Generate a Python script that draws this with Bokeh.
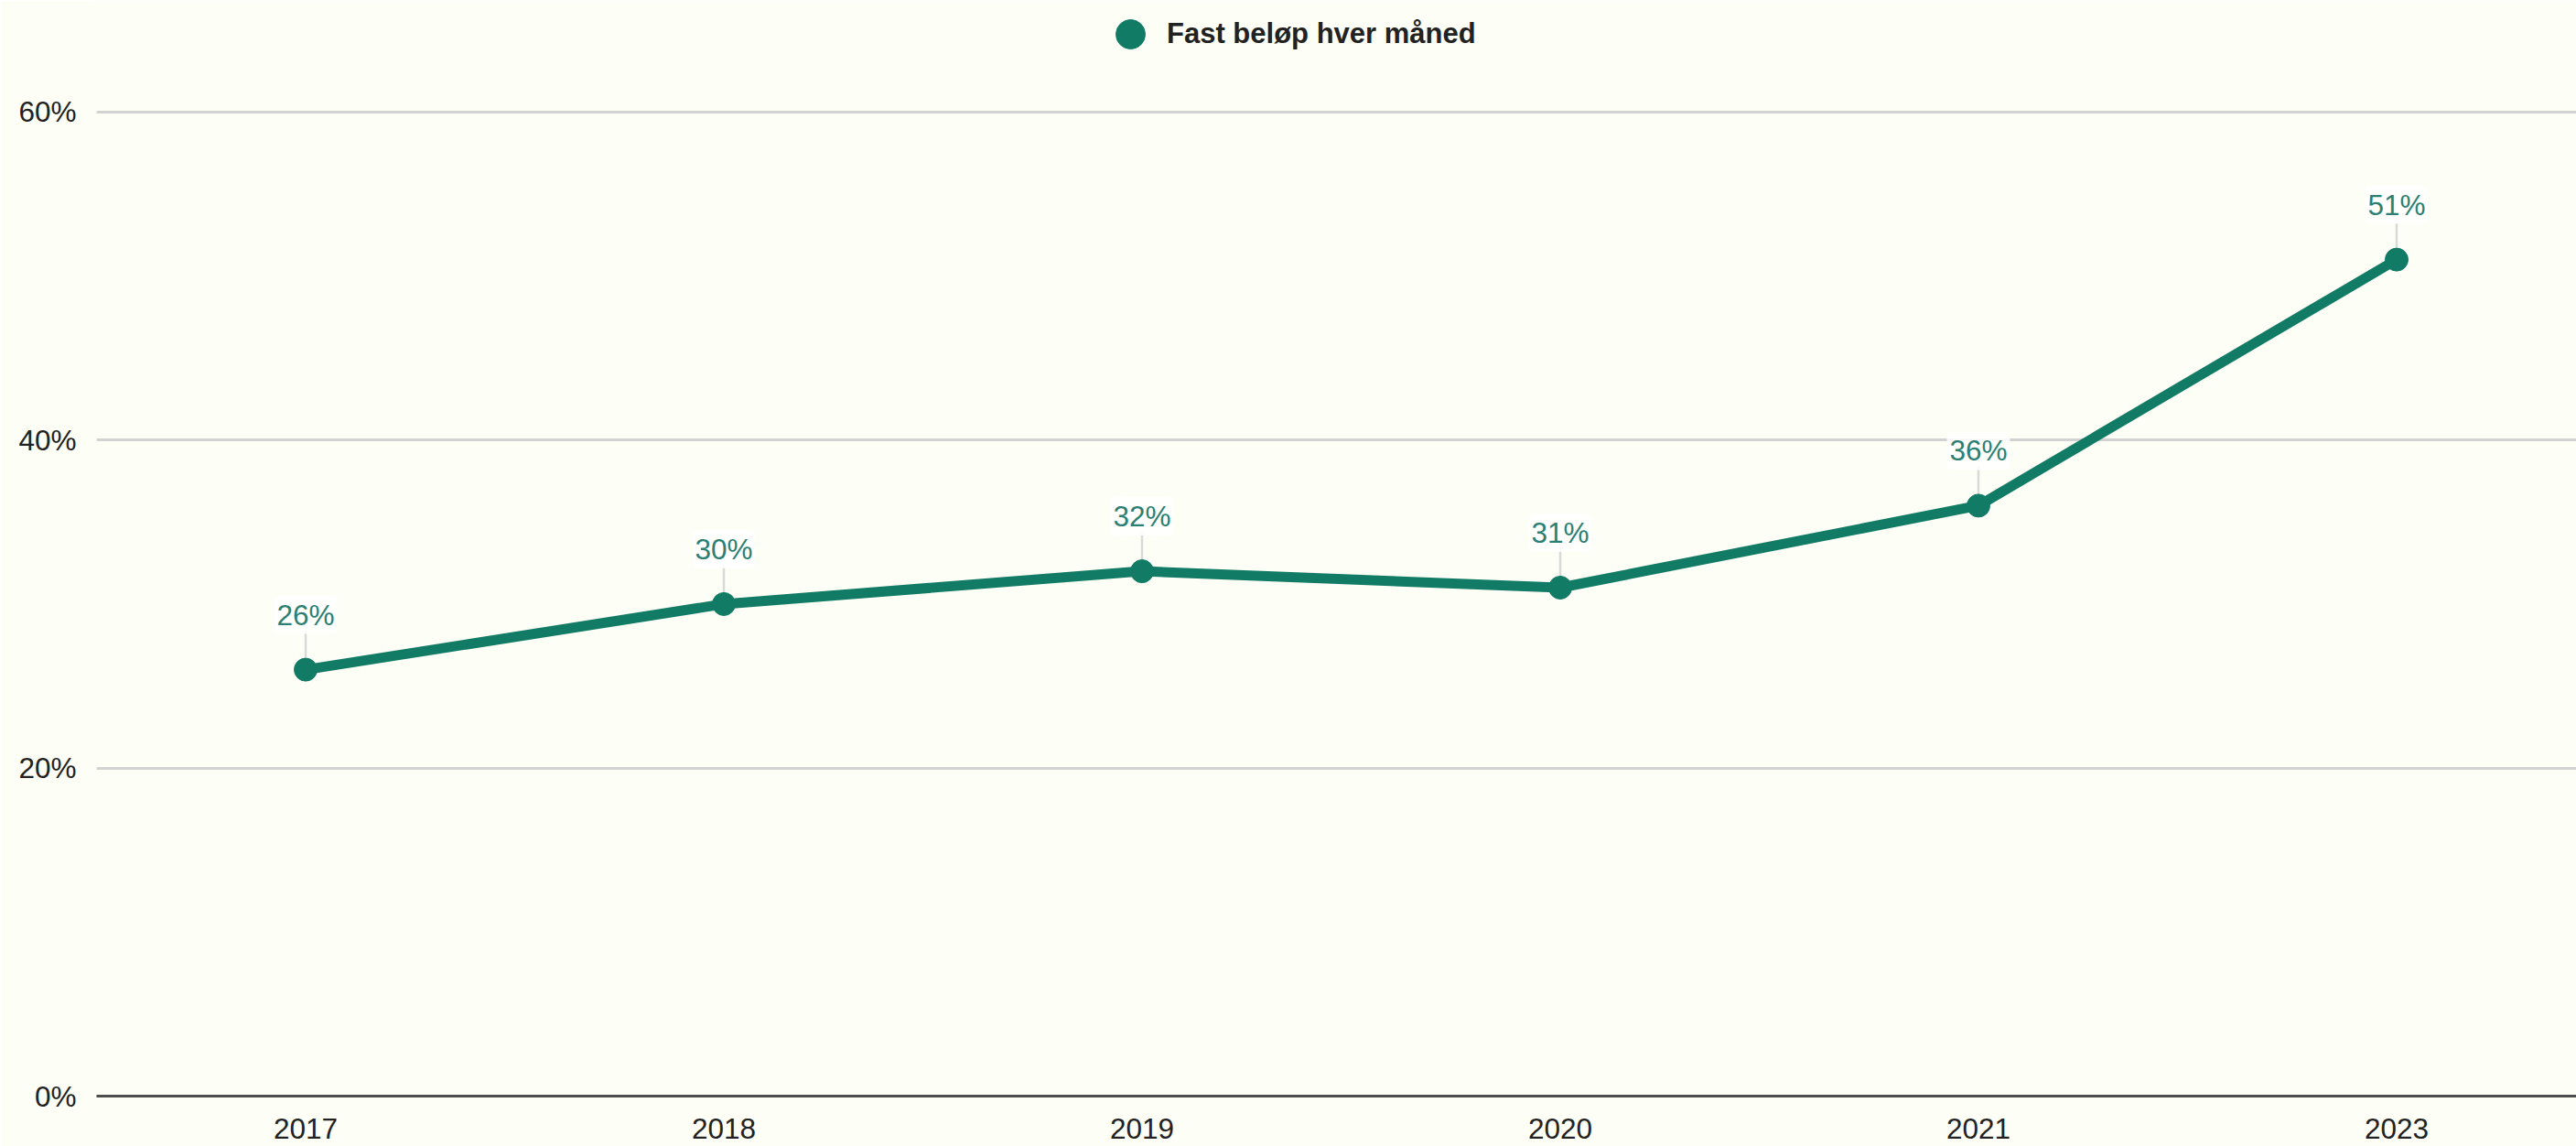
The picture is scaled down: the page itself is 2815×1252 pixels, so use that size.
from bokeh.plotting import figure
from bokeh.models import (ColumnDataSource, Range1d, FixedTicker, PrintfTickFormatter,
                          Legend, LegendItem)
from bokeh.core.properties import value
from bokeh.embed import file_html
from bokeh.resources import INLINE

# ---- data ----
years = ["2017", "2018", "2019", "2020", "2021", "2023"]
values = [26, 30, 32, 31, 36, 51]          # percent
series_name = "Fast beløp hver måned"
y_ticks = [0, 20, 40, 60]

BG = "#fdfef5"
LINE = "#127b66"
LABEL = "#2b7f73"
FONT = "Liberation Sans"

xs = [i + 0.5 for i in range(len(years))]
labels = [f"{v}%" for v in values]
src = ColumnDataSource(dict(x=xs, y=values, label=labels,
                            ytop=[v + 2.4 for v in values]))

p = figure(width=2815, height=1252, output_backend="svg", toolbar_location=None,
           x_range=Range1d(0, 5.93), y_range=Range1d(0, 66.8),
           min_border_left=105, min_border_right=0, min_border_top=0, min_border_bottom=55)
p.background_fill_color = BG
p.border_fill_color = BG
p.outline_line_color = None

# axes
p.xaxis.ticker = FixedTicker(ticks=xs)
p.xaxis.major_label_overrides = {x: y for x, y in zip(xs, years)}
p.xaxis.major_tick_line_color = None
p.xaxis.minor_tick_line_color = None
p.xaxis.axis_line_color = "#4d4d4d"
p.xaxis.axis_line_width = 3
p.xaxis.major_label_text_font = FONT
p.xaxis.major_label_text_font_size = "31.5px"
p.xaxis.major_label_text_color = "#222222"
p.xaxis.major_label_standoff = 18

p.yaxis.ticker = FixedTicker(ticks=y_ticks)
p.yaxis.formatter = PrintfTickFormatter(format="%d%%")
p.yaxis.major_tick_line_color = None
p.yaxis.minor_tick_line_color = None
p.yaxis.axis_line_color = None
p.yaxis.major_label_text_font = FONT
p.yaxis.major_label_text_font_size = "31.5px"
p.yaxis.major_label_text_color = "#222222"
p.yaxis.major_label_standoff = 16

p.xgrid.grid_line_color = None
p.ygrid.ticker = FixedTicker(ticks=y_ticks[1:])
p.ygrid.grid_line_color = "#d2d2d2"
p.ygrid.grid_line_width = 3

# leader lines
p.segment(x0="x", x1="x", y0="y", y1="ytop", source=src,
          line_color="#d9d9d9", line_width=2.5)

line_r = p.line("x", "y", source=src, line_color=LINE, line_width=11, line_join="round")
pts_r = p.scatter("x", "y", source=src, size=25, fill_color=LINE, line_color=LINE)

p.text(x="x", y="y", text="label", source=src, y_offset=-60,
       text_align="center", text_baseline="middle",
       text_font=value(FONT), text_font_size="31.5px", text_color=LABEL,
       background_fill_color="#ffffff", background_fill_alpha=0.85,
       border_radius=6, padding=3)

legend = Legend(items=[LegendItem(label=series_name, renderers=[pts_r])],
                location=(1090, 1120), orientation="horizontal",
                glyph_width=80, glyph_height=80, label_standoff=0,
                padding=0, margin=0, border_line_color=None,
                background_fill_alpha=0,
                label_text_font=FONT, label_text_font_size="31px",
                label_text_font_style="bold", label_text_color="#222222")
p.add_layout(legend, "center")

open("out.html", "w").write(file_html(p, INLINE))
